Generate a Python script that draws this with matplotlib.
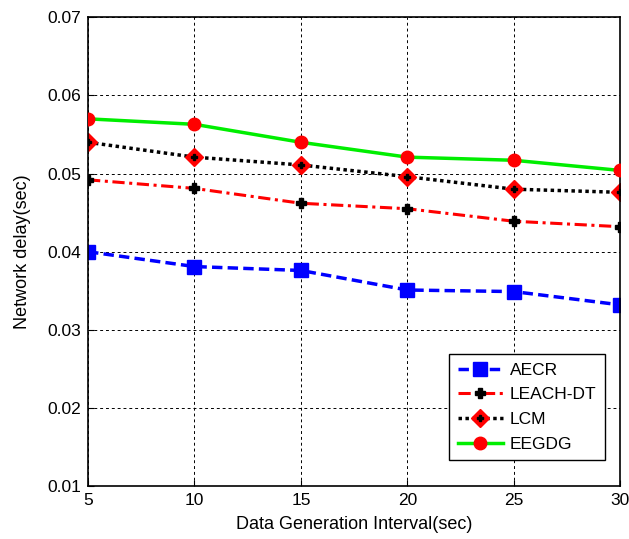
import matplotlib
matplotlib.use("Agg")
import matplotlib.pyplot as plt

plt.rcParams['font.family'] = ['Liberation Sans', 'DejaVu Sans']

# data generation interval (sec)
interval = [5, 10, 15, 20, 25, 30]

# network delay (sec) per protocol
aecr = [0.0400, 0.0381, 0.0376, 0.0351, 0.0349, 0.0332]
leach_dt = [0.0492, 0.0481, 0.0462, 0.0455, 0.0439, 0.0432]
lcm = [0.0540, 0.0521, 0.0511, 0.0496, 0.0480, 0.0476]
eegdg = [0.0570, 0.0563, 0.0540, 0.0521, 0.0517, 0.0504]

fig = plt.figure(figsize=(6.29, 5.39), dpi=100)
ax = fig.add_axes([0.14, 0.098, 0.846, 0.870])

h1, = ax.plot(interval, aecr, color='blue', lw=2.5, dashes=(3, 1.5),
              marker='s', ms=10, mfc='blue', mec='blue', label='AECR')
h2, = ax.plot(interval, leach_dt, color='red', lw=2.2, dashes=(4, 1.5, 1, 1.5),
              marker='P', ms=7, mfc='black', mec='black', label='LEACH-DT')
h3, = ax.plot(interval, lcm, color='black', lw=2.5, dashes=(1, 1),
              marker='D', ms=9, mfc='red', mec='red', label='LCM')
h3b, = ax.plot(interval, lcm, ls='none', marker='P', ms=4, mfc='black', mec='black')
h4, = ax.plot(interval, eegdg, color='#00ee00', lw=2.5,
              marker='o', ms=9, mfc='red', mec='red', label='EEGDG', zorder=3)

ax.set_xlim(5, 30)
ax.set_ylim(0.01, 0.07)
ax.set_xticks(interval)
ax.set_yticks([0.01, 0.02, 0.03, 0.04, 0.05, 0.06, 0.07])
ax.set_yticklabels(['0.01', '0.02', '0.03', '0.04', '0.05', '0.06', '0.07'])
ax.grid(True, color='black', ls=(0, (3, 3)), lw=0.7)
ax.tick_params(direction='in', labelsize=12.5, length=4, pad=5)
for s in ax.spines.values():
    s.set_linewidth(1.2)

ax.set_xlabel('Data Generation Interval(sec)', fontsize=13, labelpad=6)
ax.set_ylabel('Network delay(sec)', fontsize=13, labelpad=12)

leg = ax.legend([h1, h2, (h3, h3b), h4], ['AECR', 'LEACH-DT', 'LCM', 'EEGDG'],
                loc='lower right', bbox_to_anchor=(0.972, 0.055), fontsize=12.5,
                fancybox=False, framealpha=1, edgecolor='black',
                handlelength=2.6, handletextpad=0.4, borderpad=0.5,
                labelspacing=0.55, borderaxespad=0)
leg.get_frame().set_linewidth(1.0)

fig.savefig('out.png', dpi=100)
